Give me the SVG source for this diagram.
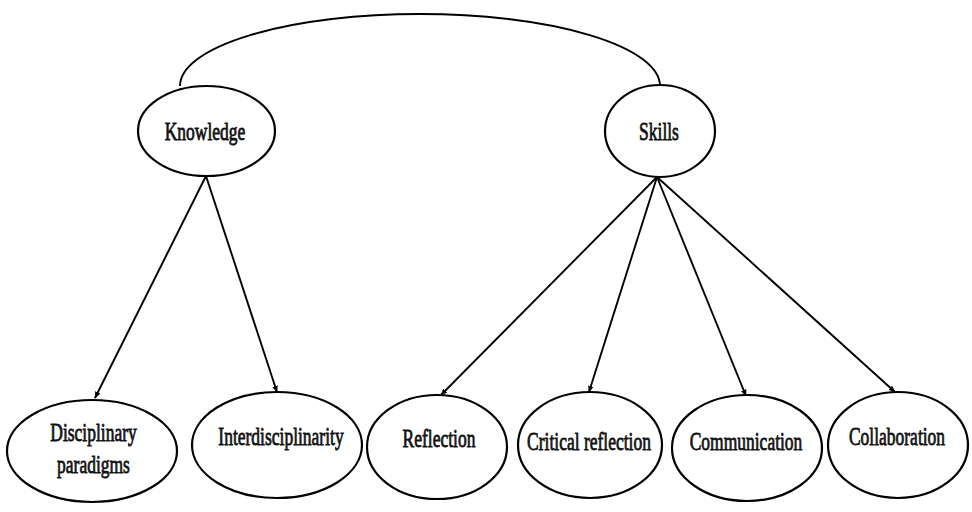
<svg xmlns="http://www.w3.org/2000/svg" width="972" height="512" viewBox="0 0 972 512">
<style>
.node ellipse{fill:#fff;stroke:#000;stroke-width:2.2}
.node text{font-family:"Liberation Serif","Times New Roman",serif;font-size:25px;fill:#111;stroke:#111;stroke-width:0.8;text-anchor:middle}
.edge{fill:none;stroke:#000;stroke-width:1.9}
</style>
<defs>
<marker id="ah" viewBox="0 0 10 10" refX="9" refY="5" markerWidth="7" markerHeight="7" orient="auto" markerUnits="userSpaceOnUse">
<path d="M0,1 L10,5 L0,9 z" fill="#000"/>
</marker>
</defs>
<rect width="972" height="512" fill="#fff"/>
<g id="connectors">
<path class="edge" d="M180,86 A240,72 0 0 1 660,86"/>
<line class="edge" x1="206" y1="176" x2="95" y2="398" marker-end="url(#ah)"/>
<line class="edge" x1="206" y1="176" x2="277" y2="392" marker-end="url(#ah)"/>
<line class="edge" x1="657" y1="177" x2="441" y2="395" marker-end="url(#ah)"/>
<line class="edge" x1="657" y1="177" x2="589" y2="392" marker-end="url(#ah)"/>
<line class="edge" x1="657" y1="177" x2="746" y2="396" marker-end="url(#ah)"/>
<line class="edge" x1="657" y1="177" x2="895" y2="392" marker-end="url(#ah)"/>
</g>
<g id="knowledge" class="node">
<ellipse cx="206.5" cy="131" rx="68.5" ry="45"/>
<text transform="translate(205,140) scale(0.7,1)">Knowledge</text>
</g>
<g id="skills" class="node">
<ellipse cx="660" cy="131" rx="55" ry="46"/>
<text transform="translate(659,140) scale(0.7,1)">Skills</text>
</g>
<g id="disciplinary-paradigms" class="node">
<ellipse cx="92" cy="451" rx="85" ry="51"/>
<text transform="translate(93.5,441) scale(0.7,1)">Disciplinary</text>
<text transform="translate(93.5,473) scale(0.7,1)">paradigms</text>
</g>
<g id="interdisciplinarity" class="node">
<ellipse cx="277" cy="445" rx="85" ry="53"/>
<text transform="translate(281,445) scale(0.7,1)">Interdisciplinarity</text>
</g>
<g id="reflection" class="node">
<ellipse cx="437" cy="447" rx="70" ry="52"/>
<text transform="translate(439,447) scale(0.7,1)">Reflection</text>
</g>
<g id="critical-reflection" class="node">
<ellipse cx="590" cy="445" rx="72" ry="53"/>
<text transform="translate(589,450) scale(0.7,1)">Critical reflection</text>
</g>
<g id="communication" class="node">
<ellipse cx="747" cy="448" rx="75" ry="53"/>
<text transform="translate(746,450) scale(0.7,1)">Communication</text>
</g>
<g id="collaboration" class="node">
<ellipse cx="898" cy="445" rx="70" ry="53"/>
<text transform="translate(897,445) scale(0.7,1)">Collaboration</text>
</g>
</svg>
